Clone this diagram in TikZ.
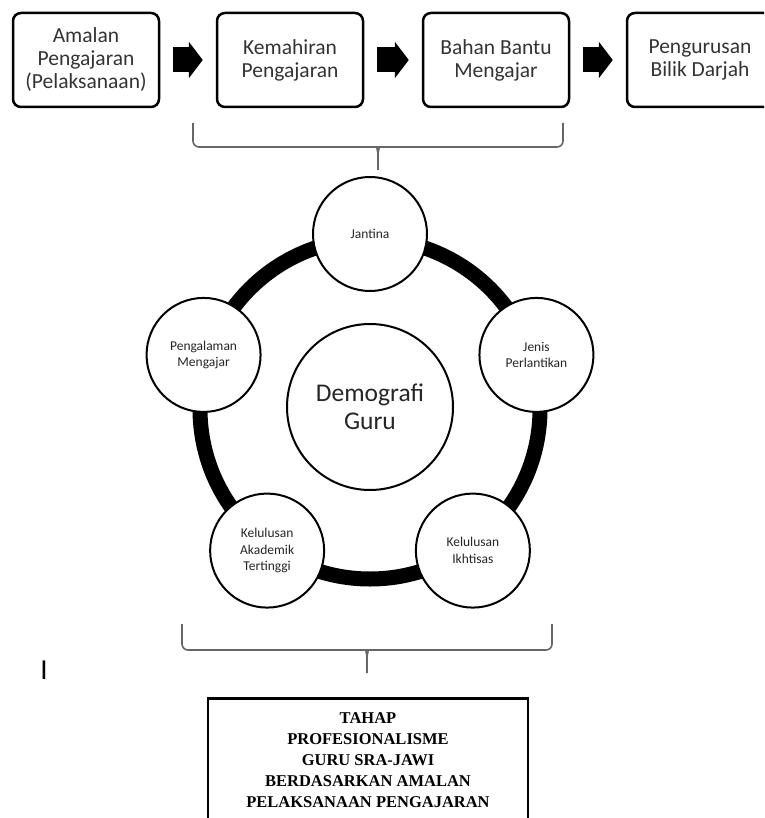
\documentclass[tikz,border=0pt]{standalone}
\usepackage{fontspec}
\setmainfont{Carlito}
\newfontfamily\capsfont{Liberation Serif}
\usetikzlibrary{arrows.meta}

\tikzset{
  topbox/.style={draw=black,line width=2.5pt,rounded corners=8pt,minimum width=146pt,minimum height=94pt,align=center,text=black!80,font=\fontsize{21.5}{23}\selectfont},
  blockarrow/.style={line width=25pt,-{Triangle[length=14pt,width=36pt]}},
  pentnode/.style={circle,draw=black,line width=2pt,fill=white,minimum size=114pt,inner sep=0pt,align=center,text=black!85,font=\fontsize{13.5}{16.5}\selectfont},
  bracepath/.style={draw=black!60,line width=1.6pt,rounded corners=6pt},
}

\begin{document}
\begin{tikzpicture}[x=1pt,y=-1pt]
\path[use as bounding box,clip] (0,0) rectangle (764,818);
\pgfmathsetmacro{\ringr}{170}
\pgfmathsetmacro{\pentr}{175}

\node[topbox] (amalan) at (86,60) {Amalan\\Pengajaran\\(Pelaksanaan)};
\node[topbox] (kemahiran) at (290,60) {Kemahiran\\Pengajaran};
\node[topbox] (bahan) at (496,60) {Bahan Bantu\\Mengajar};
\node[topbox] (bilik) at (700,60) {Pengurusan\\Bilik Darjah};
\draw[blockarrow] ([xshift=13pt]amalan.east) -- ([xshift=-13pt]kemahiran.west);
\draw[blockarrow] ([xshift=13pt]kemahiran.east) -- ([xshift=-13pt]bahan.west);
\draw[blockarrow] ([xshift=13pt]bahan.east) -- ([xshift=-13pt]bilik.west);

\draw[bracepath] (193,123) -- (193,147) -- (372,147) [sharp corners] to[out=0,in=90] (378,154) -- (378,170);
\draw[bracepath] (563,123) -- (563,147) -- (384,147) [sharp corners] to[out=180,in=90] (378,154);

\coordinate (c) at (370,409);
\draw[line width=15pt] (c) circle (\ringr);
\node[pentnode] (jantina) at ([shift={(-90:\pentr)}]c) {Jantina};
\node[pentnode] (jenis) at ([shift={(-18:\pentr)}]c) {Jenis\\Perlantikan};
\node[pentnode] (ikhtisas) at ([shift={(54:\pentr)}]c) {Kelulusan\\Ikhtisas};
\node[pentnode] (akademik) at ([shift={(126:\pentr)}]c) {Kelulusan\\Akademik\\Tertinggi};
\node[pentnode] (pengalaman) at ([shift={(198:\pentr)}]c) {Pengalaman\\Mengajar};
\node[pentnode,minimum size=166pt,font=\fontsize{25.5}{28}\selectfont] (demografi) at ([yshift=2pt]c) {Demografi\\Guru};

\draw[bracepath] (182,624) -- (182,650) -- (361,650) [sharp corners] to[out=0,in=90] (367,657) -- (367,673);
\draw[bracepath] (552,624) -- (552,650) -- (373,650) [sharp corners] to[out=180,in=90] (367,657);

\node[anchor=base,inner sep=0pt,font=\fontsize{29}{29}\selectfont] (stray) at (44,679) {I};

\node[draw=black,line width=2.5pt,anchor=north,minimum width=320pt,minimum height=124pt,align=center,font=\capsfont\bfseries\fontsize{16.5}{21}\selectfont] (tahap) at (368,697) {TAHAP\\PROFESIONALISME\\GURU SRA-JAWI\\BERDASARKAN AMALAN\\PELAKSANAAN PENGAJARAN};
\end{tikzpicture}
\end{document}
